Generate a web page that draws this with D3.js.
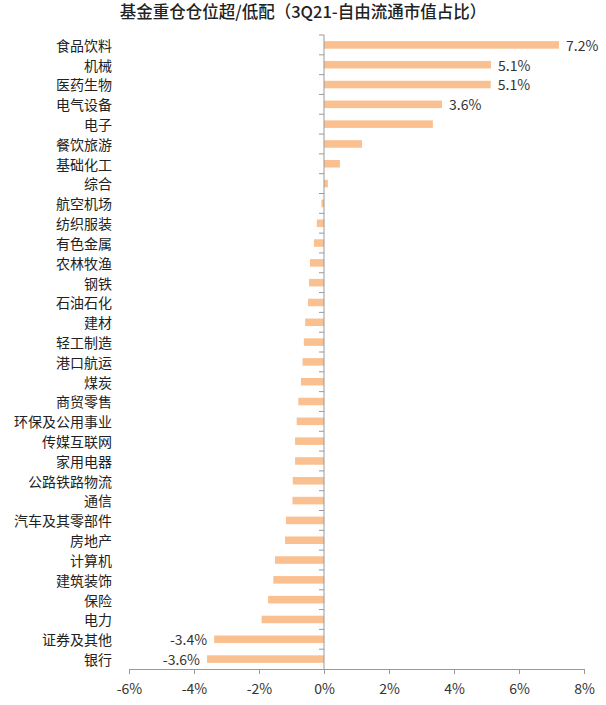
<!DOCTYPE html>
<html>
<head>
<meta charset="utf-8">
<script src="https://cdn.jsdelivr.net/npm/d3@7"></script>
<style>
  body { margin: 0; background: #fff; }
  text { font-family: "Noto Sans CJK SC", "Noto Sans", sans-serif; }
</style>
</head>
<body>
<svg id="chart" width="606" height="705"></svg>
<script>
// industries, top to bottom
const industries = [
  "食品饮料", "机械", "医药生物", "电气设备", "电子", "餐饮旅游", "基础化工", "综合",
  "航空机场", "纺织服装", "有色金属", "农林牧渔", "钢铁", "石油石化", "建材", "轻工制造",
  "港口航运", "煤炭", "商贸零售", "环保及公用事业", "传媒互联网", "家用电器", "公路铁路物流",
  "通信", "汽车及其零部件", "房地产", "计算机", "建筑装饰", "保险", "电力", "证券及其他", "银行"
];
// over/under weight, % of free-float market cap
const overweight = [
  7.23, 5.14, 5.13, 3.63, 3.35, 1.17, 0.49, 0.12,
  -0.08, -0.22, -0.31, -0.43, -0.46, -0.49, -0.58, -0.62,
  -0.66, -0.71, -0.79, -0.84, -0.89, -0.89, -0.96,
  -0.97, -1.17, -1.20, -1.51, -1.56, -1.72, -1.92, -3.38, -3.60
];
// only these bars carry a value label
const labelled = ["食品饮料", "机械", "医药生物", "电气设备", "证券及其他", "银行"];
const xTicks = [-6, -4, -2, 0, 2, 4, 6, 8];

const svg = d3.select("#chart");
const margin = { top: 35, left: 129, right: 22, bottom: 36 };
const width = 606 - margin.left - margin.right;
const height = 705 - margin.top - margin.bottom;

const x = d3.scaleLinear().domain([-6, 8]).range([0, width]);
const y = d3.scaleBand().domain(industries).range([0, height]).paddingInner(0.62).paddingOuter(0.31);

const data = industries.map((name, i) => ({ name, value: overweight[i] }));

// title
svg.append("text")
  .attr("x", 303)
  .attr("y", 18)
  .attr("text-anchor", "middle")
  .attr("font-size", 16.5)
  .attr("font-weight", 500)
  .attr("fill", "#222")
  .text("基金重仓仓位超/低配（3Q21-自由流通市值占比）");

const g = svg.append("g").attr("transform", `translate(${margin.left},${margin.top})`);

// bars
g.selectAll(".bar")
  .data(data)
  .join("rect")
  .attr("class", "bar")
  .attr("x", (d) => x(Math.min(0, d.value)))
  .attr("y", (d) => y(d.name))
  .attr("width", (d) => Math.abs(x(d.value) - x(0)))
  .attr("height", y.bandwidth())
  .attr("fill", "#FAC090");

// x axis
const xAxis = g.append("g")
  .attr("transform", `translate(0,${height})`)
  .call(d3.axisBottom(x).tickValues(xTicks).tickSize(5).tickPadding(10).tickFormat((d) => d + "%"));
xAxis.select(".domain").attr("stroke", "#999");
xAxis.selectAll(".tick line").attr("stroke", "#999");
xAxis.selectAll("text").attr("font-size", 14).attr("fill", "#333")
  .style("font-family", '"Noto Sans CJK SC", sans-serif');

// y axis at zero: vertical line with ticks between categories
const band = height / industries.length;
const yAxisG = g.append("g").attr("transform", `translate(${x(0)},0)`);
yAxisG.append("line")
  .attr("y1", 0).attr("y2", height)
  .attr("stroke", "#999");
yAxisG.selectAll(".sep")
  .data(d3.range(industries.length))
  .join("line")
  .attr("class", "sep")
  .attr("x1", -5).attr("x2", 0)
  .attr("y1", (i) => i * band)
  .attr("y2", (i) => i * band)
  .attr("stroke", "#999");

// category labels
g.selectAll(".cat")
  .data(industries)
  .join("text")
  .attr("class", "cat")
  .attr("x", -17)
  .attr("y", (d) => y(d) + y.bandwidth() / 2 + 1)
  .attr("dy", "0.35em")
  .attr("text-anchor", "end")
  .attr("font-size", 14)
  .attr("fill", "#222")
  .text((d) => d);

// value labels
g.selectAll(".val")
  .data(data.filter((d) => labelled.includes(d.name)))
  .join("text")
  .attr("class", "val")
  .attr("x", (d) => (d.value > 0 ? x(d.value) + 7 : x(d.value) - 7))
  .attr("y", (d) => y(d.name) + y.bandwidth() / 2 + 1)
  .attr("dy", "0.35em")
  .attr("text-anchor", (d) => (d.value > 0 ? "start" : "end"))
  .attr("font-size", 14)
  .attr("fill", "#333")
  .text((d) => d.value.toFixed(1) + "%");
</script>
</body>
</html>
